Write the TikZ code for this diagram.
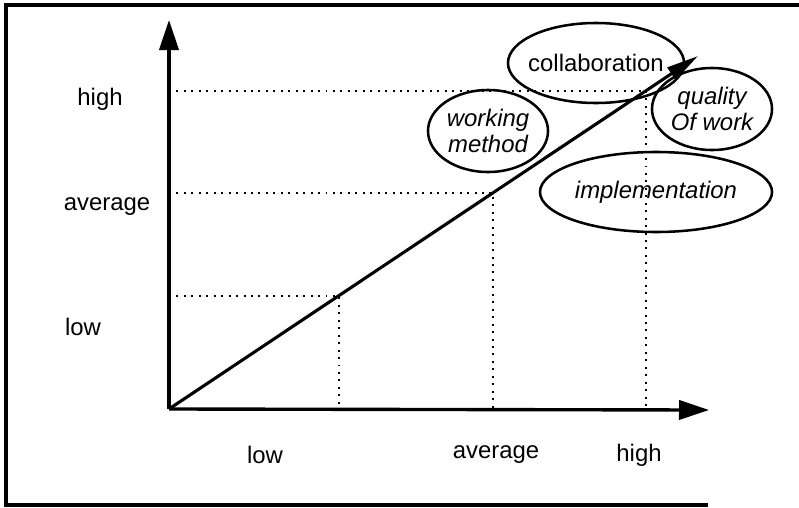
\documentclass[tikz,border=0pt]{standalone}
\usepackage{fontspec}
\setmainfont{Liberation Sans}
\usetikzlibrary{arrows.meta,shapes.geometric}
\tikzset{
	axis/.style={line width=2.4pt, -{Triangle[length=0.75cm,width=0.48cm]}},
	trend/.style={line width=2.2pt, -{Triangle[length=0.8cm,width=0.36cm]}},
	guide/.style={line width=1.4pt, dash pattern=on 1.4pt off 3.9pt},
	level/.style={font=\fontsize{17}{18}\selectfont},
	blob/.style={draw, ellipse, line width=1.8pt, inner sep=0pt, align=center,
			font=\fontsize{17}{18}\selectfont\itshape}
}

\begin{document}
\begin{tikzpicture}[x=0.025cm, y=-0.025cm]
        \useasboundingbox (0,0) rectangle (799,507);
        \draw[line width=2.2pt] (799,5) -- (6,5) -- (6,505) -- (708,505);
        \coordinate (O) at (169,409);
        \coordinate (ytop) at (169,20);
        \coordinate (xend) at (709,410);
        \coordinate (dend) at (698,56);
        \coordinate (lo) at (339,296);
        \coordinate (mid) at (493,193);
        \coordinate (hi) at (646,91);
        \draw[guide] (lo -| O) -- (lo) -- (lo |- O);
        \draw[guide] (mid -| O) -- (mid) -- (mid |- O);
        \draw[guide] (hi -| O) -- (hi) -- (hi |- O);
        \node[level] (yhigh) at (100,99) {high};
        \node[level] (yavg) at (107,207) {average};
        \node[level] (ylow) at (83,327) {low};
        \node[level] (xlow) at (265,455) {low};
        \node[level] (xavg) at (496,455) {average};
        \node[level] (xhigh) at (639,455) {high};
        \node[blob, minimum width=4.4cm, minimum height=2cm, inner xsep=-0.2cm, font=\fontsize{17}{18}\selectfont] (collab) at (596,63) {collaboration};
        \node[blob, minimum width=3cm, minimum height=2.05cm] (method) at (488,131) {working\\method};
        \node[blob, minimum width=3cm, minimum height=2.05cm] (quality) at (712,109) {quality\\Of work};
        \node[blob, minimum width=5.8cm, minimum height=2cm] (impl) at (656,192) {implementation};
        \draw[axis] (O) -- (ytop);
        \draw[axis] (O) -- (xend);
        \draw[trend] (O) -- (dend);
    \end{tikzpicture}
\end{document}
